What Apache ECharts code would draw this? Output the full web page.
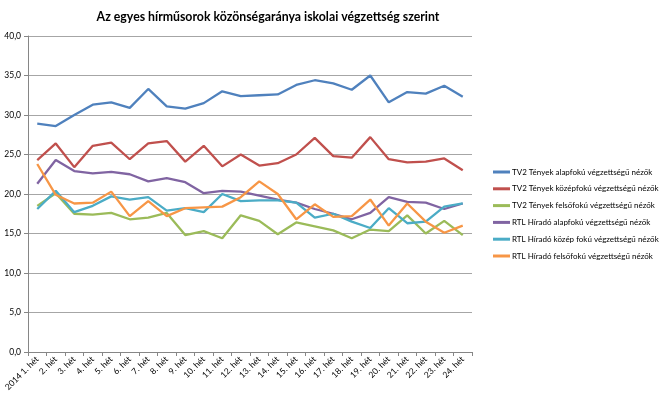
<!DOCTYPE html>
<html><head><meta charset="utf-8">
<script src="https://cdn.jsdelivr.net/npm/echarts@6/dist/echarts.min.js"></script>
<style>html,body{margin:0;padding:0;background:#fff}#c{width:666px;height:397px}</style>
</head><body><div id="c"></div>
<script>
const categories = ['2014 1. hét','2. hét','3. hét','4. hét','5. hét','6. hét','7. hét','8. hét','9. hét','10. hét','11. hét','12. hét','13. hét','14. hét','15. hét','16. hét','17. hét','18. hét','19. hét','20. hét','21. hét','22. hét','23. hét','24. hét'];
const seriesNames = ['TV2 Tények alapfokú végzettségű nézők','TV2 Tények középfokú végzettségű nézők','TV2 Tények felsőfokú végzettségű nézők','RTL Híradó alapfokú végzettségű nézők','RTL Híradó közép fokú végzettségű nézők','RTL Híradó felsőfokú végzettségű nézők'];
const tv2Alap   = [28.9,28.6,30.0,31.3,31.6,30.9,33.3,31.1,30.8,31.5,33.0,32.4,32.5,32.6,33.8,34.4,34.0,33.2,35.0,31.6,32.9,32.7,33.7,32.3];
const tv2Kozep  = [24.3,26.4,23.4,26.1,26.5,24.4,26.4,26.7,24.1,26.1,23.5,25.0,23.6,23.9,25.0,27.1,24.8,24.6,27.2,24.4,24.0,24.1,24.5,23.0];
const tv2Felso  = [18.5,20.1,17.5,17.4,17.6,16.8,17.0,17.6,14.8,15.3,14.4,17.3,16.6,14.9,16.4,15.9,15.4,14.4,15.5,15.3,17.3,15.0,16.6,14.8];
const rtlAlap   = [21.3,24.3,22.9,22.6,22.8,22.5,21.6,22.0,21.5,20.1,20.4,20.3,19.8,19.3,18.9,18.1,17.5,16.8,17.6,19.6,19.0,18.9,18.1,18.8];
const rtlKozep  = [18.1,20.4,17.7,18.5,19.7,19.3,19.6,17.9,18.2,17.7,20.0,19.1,19.2,19.2,18.9,17.0,17.5,16.5,15.7,18.2,16.3,16.5,18.4,18.8];
const rtlFelso  = [23.8,19.9,18.8,18.9,20.3,17.2,19.1,17.2,18.2,18.3,18.4,19.6,21.6,20.0,16.8,18.7,17.1,17.2,19.3,16.0,18.8,16.5,15.1,16.0];
const yTicks = {min:0, max:40, interval:5};

const colors = ['#4F81BD','#C0504D','#9BBB59','#8064A2','#4BACC6','#F79646'];
const dataSets = [tv2Alap,tv2Kozep,tv2Felso,rtlAlap,rtlKozep,rtlFelso];
const FONT = 'Lato, "Open Sans", sans-serif';

const chart = echarts.init(document.getElementById('c'), null, {renderer:'canvas'});
chart.setOption({
  animation:false,
  color: colors,
  title:{
    text:'Az egyes hírműsorok közönségaránya iskolai végzettség szerint',
    left:263, top:6, textAlign:'center',
    textStyle:{fontFamily:FONT, fontSize:12.3, fontWeight:'bold', color:'#000'}
  },
  legend:{
    orient:'vertical', left:488, top:161,
    icon:'rect', itemWidth:17, itemHeight:3, itemGap:4.8,
    textStyle:{fontFamily:FONT, fontSize:8, color:'#000', lineHeight:12, padding:[0,0,0,-3]},
    data: seriesNames
  },
  grid:{left:28, right:194, top:36, bottom:45, containLabel:false},
  xAxis:{
    type:'category', data:categories, boundaryGap:true,
    axisLine:{lineStyle:{color:'#868686'}},
    axisTick:{show:true, length:4, lineStyle:{color:'#868686'}},
    axisLabel:{rotate:45, interval:0, fontFamily:FONT, fontSize:8.5, color:'#000', margin:6}
  },
  yAxis:{
    type:'value', min:yTicks.min, max:yTicks.max, interval:yTicks.interval,
    axisLine:{show:true, lineStyle:{color:'#868686'}},
    axisTick:{show:true, length:4, lineStyle:{color:'#868686'}},
    splitLine:{lineStyle:{color:'#a6a6a6', width:1}},
    axisLabel:{fontFamily:FONT, fontSize:8.5, color:'#000', margin:7,
      formatter:v=>v.toFixed(1).replace('.',',')}
  },
  series: seriesNames.map((n,i)=>({
    name:n, type:'line', data:dataSets[i], showSymbol:false, symbol:'none',
    lineStyle:{width:2.3, color:colors[i]}, itemStyle:{color:colors[i]}
  }))
});
</script></body></html>
